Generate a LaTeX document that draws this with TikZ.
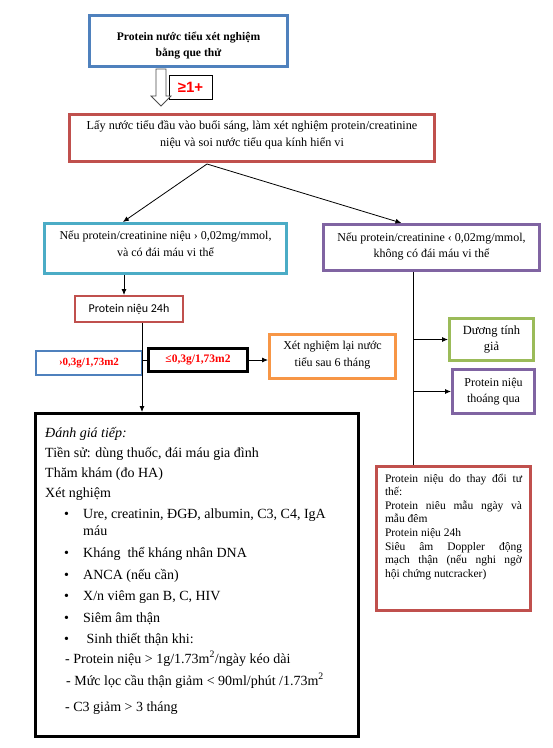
\documentclass[tikz,border=0pt]{standalone}
\usepackage{fontspec}
\setmainfont{Liberation Serif}
\newfontfamily\carlito{Carlito}
\newfontfamily\lsans{Liberation Sans}
\usetikzlibrary{arrows.meta,calc}
\definecolor{cBlue}{HTML}{4F81BD}
\definecolor{cRed}{HTML}{C0504D}
\definecolor{cCyan}{HTML}{4BACC6}
\definecolor{cPurple}{HTML}{8064A2}
\definecolor{cGreen}{HTML}{9BBB59}
\definecolor{cOrange}{HTML}{F79646}
\definecolor{cText}{HTML}{FF0000}
% width, height, first baseline, font size, baselineskip, text
\newcommand\bxt[6]{\parbox[c][#2][t]{#1}{\fontsize{#4}{#5}\selectfont\lineskiplimit=-20pt\centering\rule{0pt}{#3}#6\par}}
\begin{document}
\begin{tikzpicture}[x=1pt,y=-1pt,
  bx/.style={draw, line width=3pt, inner sep=0pt, fill=white},
  thinbx/.style={draw, line width=2pt, inner sep=0pt, fill=white},
  arr/.style={-{Latex[length=6pt,width=5pt]}, line width=0.8pt},
  ln/.style={line width=0.8pt},
  txt/.style={anchor=base west, inner sep=0pt, font=\fontsize{14}{16}\selectfont}]
\useasboundingbox[fill=white] (0,0) rectangle (553,748);

% boxes
\node[bx, draw=cBlue] (b1) at (188.5,41)
  {\bxt{198pt}{51pt}{24.5pt}{11.6}{16}{\bfseries Protein nước tiểu xét nghiệm\\bằng que thử}};
\node[bx, draw=cRed] (b2) at (252,138)
  {\bxt{365pt}{47pt}{14.5pt}{12.2}{17}{Lấy nước tiểu đầu vào buổi sáng, làm xét nghiệm protein/creatinine\\niệu và soi nước tiểu qua kính hiển vi}};
\node[bx, draw=cCyan] (b3) at (165.5,248.5)
  {\bxt{242pt}{50pt}{15.5pt}{12}{17}{Nếu protein/creatinine niệu › 0,02mg/mmol,\\và có đái máu vi thể}};
\node[bx, draw=cPurple] (b4) at (431.5,247.5)
  {\bxt{216pt}{46pt}{16.5pt}{12}{16}{Nếu protein/creatinine ‹ 0,02mg/mmol,\\không có đái máu vi thể}};
\node[thinbx, draw=cRed, minimum width=108pt, minimum height=26pt, font=\carlito\fontsize{12}{14}\selectfont] (b5) at (129,309) {Protein niệu 24h};
\node[thinbx, draw=cBlue, minimum width=106pt, minimum height=24pt, text=cText, font=\bfseries\fontsize{11}{13}\selectfont] (b6) at (89,363) {›0,3g/1,73m2};
\node[bx, draw=black, minimum width=99pt, minimum height=23pt, text=cText, font=\bfseries\fontsize{11.5}{13}\selectfont] (b7) at (198,360) {≤0,3g/1,73m2};
\node[bx, draw=cOrange] (orange) at (332.5,356.5)
  {\bxt{126pt}{44pt}{14.5pt}{12}{17}{Xét nghiệm lại nước\\tiểu sau 6 tháng}};
\node[bx, draw=cGreen] (green) at (491.5,339.5)
  {\bxt{84pt}{42pt}{15.5pt}{12.5}{16}{Dương tính\\giả}};
\node[bx, draw=cPurple] (purple2) at (493.5,391.5)
  {\bxt{82pt}{44pt}{16.5pt}{12}{16}{Protein niệu\\thoáng qua}};
\node[bx, draw=black, minimum width=323pt, minimum height=323pt] (big) at (197,575) {};
\node[bx, draw=cRed] (red2) at (453.5,538.5)
  {\parbox[c][144pt][t]{154pt}{\fontsize{11.5}{13.6}\selectfont\lineskiplimit=-20pt\leftskip=8.5pt\rightskip=8.5pt\parindent=0pt\emergencystretch=10pt\rule{0pt}{15.5pt}Protein niệu do thay đổi tư\linebreak thế:\\
  Protein niêu mẫu ngày và\linebreak mẫu đêm\\
  Protein niệu 24h\\
  Siêu âm Doppler động\linebreak mạch thận (nếu nghi ngờ\linebreak hội chứng nutcracker)\par}};
\node[draw=black, line width=0.8pt, fill=white, minimum width=43pt, minimum height=24pt, inner sep=0pt, text=cText, font=\lsans\bfseries\fontsize{15}{17}\selectfont] (plus) at (190.5,87) {≥1+};

% hollow block arrow between b1 and b2
\draw[line width=0.8pt, draw=black!70, fill=white]
  (156,69) -- (166,69) -- (166,96) -- (171,96) -- (161,106) -- (151,96) -- (156,96) -- cycle;

% text in the big box
\node[txt, font=\itshape\fontsize{14}{16}\selectfont] (t1) at (45,437) {Đánh giá tiếp:};
\node[txt] (t2) at (45,457) {Tiền sử: dùng thuốc, đái máu gia đình};
\node[txt] (t3) at (45,477) {Thăm khám (đo HA)};
\node[txt] (t4) at (45,497) {Xét nghiệm};
\node[txt] (t5) at (64,518) {\makebox[19pt][l]{•}Ure, creatinin, ĐGĐ, albumin, C3, C4, IgA};
\node[txt] (t6) at (83,535) {máu};
\node[txt] (t7) at (64,557) {\makebox[19pt][l]{•}Kháng\ \ thể kháng nhân DNA};
\node[txt] (t8) at (64,579) {\makebox[19pt][l]{•}ANCA (nếu cần)};
\node[txt] (t9) at (64,600) {\makebox[19pt][l]{•}X/n viêm gan B, C, HIV};
\node[txt] (t10) at (64,622) {\makebox[19pt][l]{•}Siêm âm thận};
\node[txt] (t11) at (64,643) {\makebox[19pt][l]{•}\ Sinh thiết thận khi:};
\node[txt] (t12) at (65,663) {- Protein niệu > 1g/1.73m\textsuperscript{2}/ngày kéo dài};
\node[txt] (t13) at (66,685) {- Mức lọc cầu thận giảm < 90ml/phút /1.73m\textsuperscript{2}};
\node[txt] (t14) at (65,711) {- C3 giảm > 3 tháng};

% connectors
\coordinate (apex) at (207,164);
\coordinate (cx1) at (124,0);
\coordinate (cx2) at (142,0);
\coordinate (cx3) at (413,0);
\draw[arr] (apex) -- ($(b3.north west)!0.326!(b3.north east)$);
\draw[arr] (apex) -- ($(b4.north west)!0.363!(b4.north east)$);
\draw[arr] (b3.south -| cx1) -- (b5.north -| cx1);
\draw[arr] (b5.south -| cx2) -- (big.north -| cx2);
\draw[ln] (b7.west -| b6.east) -- (b7.west);
\draw[arr] (b7.east) -- (b7.east -| orange.west);
\draw[ln] (b4.south -| cx3) -- (red2.north -| cx3);
\draw[arr] (green.west -| cx3) -- (green.west);
\draw[arr] (purple2.west -| cx3) -- (purple2.west);
\end{tikzpicture}
\end{document}
